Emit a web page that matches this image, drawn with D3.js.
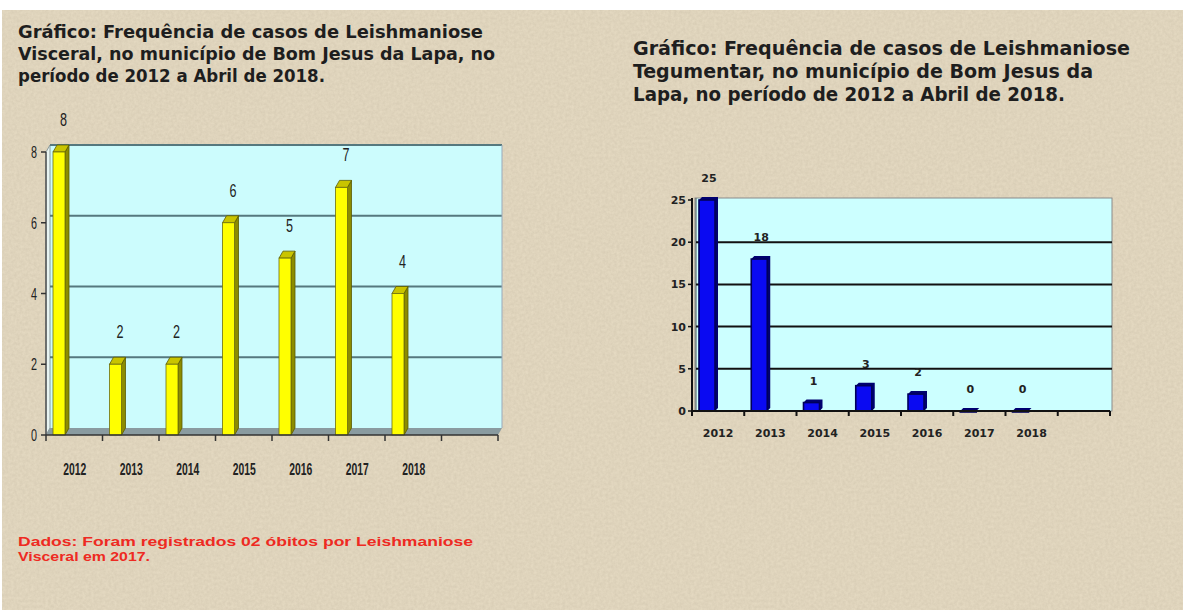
<!DOCTYPE html>
<html><head><meta charset="utf-8">
<script src="https://cdn.jsdelivr.net/npm/d3@7"></script>
<style>
html,body{margin:0;padding:0;background:#fff;}
svg{display:block;}
</style></head>
<body>
<script>
// ---------- data ----------
const years = ["2012","2013","2014","2015","2016","2017","2018"];
const visceral = [8,2,2,6,5,7,4];
const tegumentar = [25,18,1,3,2,0,0];
const leftTicks = [0,2,4,6,8];
const rightTicks = [0,5,10,15,20,25];
const leftTitle = ["Gráfico: Frequência de casos de Leishmaniose","Visceral, no município de Bom Jesus da Lapa, no","período de 2012 a Abril de 2018."];
const rightTitle = ["Gráfico: Frequência de casos de Leishmaniose","Tegumentar, no município de Bom Jesus da","Lapa, no período de 2012 a Abril de 2018."];
const note = ["Dados: Foram registrados 02 óbitos por Leishmaniose","Visceral  em 2017."];

const W = 1183, H = 610;
const svg = d3.select("body").append("svg").attr("width", W).attr("height", H);

// background paper texture
const defs = svg.append("defs");
const f = defs.append("filter").attr("id","paper").attr("x",0).attr("y",0).attr("width","100%").attr("height","100%");
f.append("feTurbulence").attr("type","fractalNoise").attr("baseFrequency","0.35").attr("numOctaves",3).attr("seed",7).attr("result","n");
f.append("feColorMatrix").attr("in","n").attr("type","matrix")
 .attr("values","0 0 0 0 0.55  0 0 0 0 0.48  0 0 0 0 0.36  0 0 0 0.9 -0.15");
svg.append("rect").attr("x",0).attr("y",0).attr("width",W).attr("height",H).attr("fill","#fff");
svg.append("rect").attr("x",2).attr("y",10).attr("width",W-2).attr("height",H-10).attr("fill","#e4d9c1");
svg.append("rect").attr("x",2).attr("y",10).attr("width",W-2).attr("height",H-10).attr("filter","url(#paper)").attr("opacity",0.55);

// titles
function title(lines, x, y0, dy, size, widths){
  lines.forEach((t,i)=>{
    svg.append("text").attr("x",x).attr("y",y0+i*dy).text(t)
      .attr("font-family","'DejaVu Sans Condensed','DejaVu Sans',sans-serif")
      .attr("font-stretch","condensed")
      .attr("font-weight","bold").attr("font-size",size).attr("fill","#1e1e1e")
      .attr("textLength",widths[i]).attr("lengthAdjust","spacingAndGlyphs");
  });
}
title(leftTitle, 18, 38, 22, 18, [465, 477, 307]);
title(rightTitle, 633, 55, 23, 19, [497, 460, 432]);

// note
note.forEach((t,i)=>{
  svg.append("text").attr("x",18).attr("y",546+i*15).text(t)
    .attr("font-family","'Liberation Sans',Arial,sans-serif").attr("font-weight","bold")
    .attr("font-size",13.5).attr("fill","#ee2a22")
    .attr("textLength", i===0?455:132).attr("lengthAdjust","spacingAndGlyphs");
});

// ---------- left chart (3D yellow bars) ----------
(function(){
  const slots = years.length + 1;
  const x = d3.scaleLinear().domain([0, slots]).range([46, 498]);
  const y = d3.scaleLinear().domain([0, 8]).range([435, 152]);
  const dx = 4, dy = -7;
  const g = svg.append("g");
  const narrow = "'Liberation Sans',Arial,sans-serif";
  // back wall
  g.append("rect").attr("x", x(0)+dx).attr("y", y(8)+dy).attr("width", x(slots)-x(0))
   .attr("height", y(0)-y(8)).attr("fill","#ccfcfd");
  // left wall
  g.append("path").attr("d", `M${x(0)},${y(0)} L${x(0)+dx},${y(0)+dy} L${x(0)+dx},${y(8)+dy} L${x(0)},${y(8)} Z`)
   .attr("fill","#e8f4f2").attr("stroke","#8a9a9c").attr("stroke-width",1);
  // gridlines on back wall
  g.selectAll(".gl").data(leftTicks.filter(d=>d>0)).enter().append("line")
   .attr("x1", x(0)+dx).attr("x2", x(slots)+dx)
   .attr("y1", d=>y(d)+dy).attr("y2", d=>y(d)+dy)
   .attr("stroke","#55787e").attr("stroke-width",2);
  g.append("line").attr("x1",x(slots)+dx).attr("x2",x(slots)+dx).attr("y1",y(8)+dy).attr("y2",y(0)+dy)
   .attr("stroke","#9ab").attr("stroke-width",1);
  // floor
  g.append("path").attr("d", `M${x(0)},${y(0)} L${x(0)+dx},${y(0)+dy} L${x(slots)+dx},${y(0)+dy} L${x(slots)},${y(0)} Z`)
   .attr("fill","#8a9ba0");
  // bars
  const bw = 12;
  const bars = g.selectAll(".bar").data(visceral).enter().append("g");
  bars.append("path").attr("d",(d,i)=>{const bx=x(i)+7+bw, t=y(d), b=y(0);
     return `M${bx},${t} L${bx+dx},${t+dy} L${bx+dx},${b+dy} L${bx},${b} Z`;})
   .attr("fill","#8c8c00").attr("stroke","#5a5a00").attr("stroke-width",0.8);
  bars.append("path").attr("d",(d,i)=>{const bx=x(i)+7, t=y(d);
     return `M${bx},${t} L${bx+dx},${t+dy} L${bx+bw+dx},${t+dy} L${bx+bw},${t} Z`;})
   .attr("fill","#c9c400").attr("stroke","#5a5a00").attr("stroke-width",0.8);
  bars.append("rect").attr("x",(d,i)=>x(i)+7).attr("y",d=>y(d)).attr("width",bw)
   .attr("height",d=>y(0)-y(d)).attr("fill","#ffff00").attr("stroke","#6e6e10").attr("stroke-width",0.8);
  // value labels
  g.selectAll(".vl").data(visceral).enter().append("text")
   .attr("x",(d,i)=>x(i)+14).attr("y",d=>y(d)-26)
   .attr("font-family",narrow).attr("font-size",18).attr("fill","#222")
   .attr("textLength",7).attr("lengthAdjust","spacingAndGlyphs").text(d=>d);
  // axes
  g.append("line").attr("x1",x(0)).attr("x2",x(0)).attr("y1",y(0)).attr("y2",y(8)).attr("stroke","#555").attr("stroke-width",1.5);
  g.append("line").attr("x1",x(0)).attr("x2",x(slots)).attr("y1",y(0)).attr("y2",y(0)).attr("stroke","#333").attr("stroke-width",1.5);
  g.selectAll(".yt").data(leftTicks).enter().append("line")
   .attr("x1",x(0)-5).attr("x2",x(0)).attr("y1",d=>y(d)).attr("y2",d=>y(d)).attr("stroke","#333").attr("stroke-width",1.5);
  g.selectAll(".ytl").data(leftTicks).enter().append("text")
   .attr("x",x(0)-15).attr("y",d=>y(d)+6)
   .attr("font-family",narrow).attr("font-size",17).attr("fill","#222")
   .attr("textLength",6).attr("lengthAdjust","spacingAndGlyphs").text(d=>d);
  g.selectAll(".xt").data(d3.range(slots+1)).enter().append("line")
   .attr("x1",d=>x(d)).attr("x2",d=>x(d)).attr("y1",y(0)).attr("y2",y(0)+6).attr("stroke","#333").attr("stroke-width",1.5);
  g.selectAll(".xl").data(years).enter().append("text")
   .attr("x",(d,i)=>x(i+0.5)-11).attr("y",475)
   .attr("font-family",narrow).attr("font-weight","bold").attr("font-size",17).attr("fill","#222")
   .attr("textLength",23).attr("lengthAdjust","spacingAndGlyphs").text(d=>d);
})();

// ---------- right chart (blue bars) ----------
(function(){
  const slots = years.length + 1;
  const x = d3.scaleLinear().domain([0, slots]).range([692, 1110]);
  const y = d3.scaleLinear().domain([0, 25]).range([411, 200]);
  const g = svg.append("g");
  const font = "'DejaVu Sans',Verdana,sans-serif";
  g.append("rect").attr("x",x(0)+3).attr("y",y(25)-2).attr("width",x(slots)-x(0)-1).attr("height",y(0)-y(25)+2)
   .attr("fill","#ccffff").attr("stroke","#8a8a8a").attr("stroke-width",1);
  g.append("line").attr("x1",x(0)+4).attr("x2",x(0)+4).attr("y1",y(0)).attr("y2",y(25)-2).attr("stroke","#555").attr("stroke-width",1);
  g.selectAll(".gl").data(rightTicks.filter(d=>d>0 && d<25)).enter().append("line")
   .attr("x1",x(0)+4).attr("x2",x(slots)+2).attr("y1",d=>y(d)).attr("y2",d=>y(d))
   .attr("stroke","#111").attr("stroke-width",2);
  // bars
  const bw = 16, dx = 3, dy = -3;
  const bars = g.selectAll(".bar").data(tegumentar).enter().append("g");
  bars.append("path").attr("d",(d,i)=>{const bx=x(i)+7, t=y(d);
     return `M${bx},${t} L${bx+dx},${t+dy} L${bx+bw+dx},${t+dy} L${bx+bw+dx},${y(0)+dy} L${bx+bw},${y(0)} L${bx+bw},${t} Z`;})
   .attr("fill","#000070");
  bars.append("rect").attr("x",(d,i)=>x(i)+7).attr("y",d=>y(d)).attr("width",bw)
   .attr("height",d=>Math.max(1,y(0)-y(d))).attr("fill","#0a0af2").attr("stroke","#00005a").attr("stroke-width",1.6);
  g.selectAll(".vl").data(tegumentar).enter().append("text")
   .attr("x",(d,i)=>x(i)+17).attr("y",d=>y(d)-18).attr("text-anchor","middle")
   .attr("font-family",font).attr("font-weight","bold").attr("font-size",11).attr("fill","#222").text(d=>d);
  // axes
  g.append("line").attr("x1",x(0)).attr("x2",x(0)).attr("y1",y(0)).attr("y2",y(25)-2).attr("stroke","#111").attr("stroke-width",2);
  g.append("line").attr("x1",x(0)).attr("x2",x(slots)).attr("y1",y(0)).attr("y2",y(0)).attr("stroke","#111").attr("stroke-width",2);
  g.selectAll(".yt").data(rightTicks).enter().append("line")
   .attr("x1",x(0)-4).attr("x2",x(0)).attr("y1",d=>y(d)).attr("y2",d=>y(d)).attr("stroke","#111").attr("stroke-width",1.5);
  g.selectAll(".ytl").data(rightTicks).enter().append("text")
   .attr("x",x(0)-6).attr("y",d=>y(d)+4).attr("text-anchor","end")
   .attr("font-family",font).attr("font-weight","bold").attr("font-size",11).attr("fill","#222").text(d=>d);
  g.selectAll(".xt").data(d3.range(slots+1)).enter().append("line")
   .attr("x1",d=>x(d)).attr("x2",d=>x(d)).attr("y1",y(0)).attr("y2",y(0)+5).attr("stroke","#111").attr("stroke-width",2);
  g.selectAll(".xl").data(years).enter().append("text")
   .attr("x",(d,i)=>x(i+0.5)).attr("y",437).attr("text-anchor","middle")
   .attr("font-family",font).attr("font-weight","bold").attr("font-size",11).attr("fill","#222").text(d=>d);
})();
</script>
</body></html>
